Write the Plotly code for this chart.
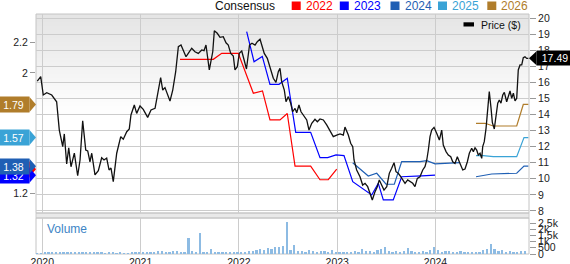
import plotly.graph_objects as go
import numpy as np

FONT = "Liberation Sans, Arial, sans-serif"
GRID = "#cccccc"

# ---------------- data (x in decimal years) ----------------
price_t = [2019.949, 2019.984, 2020.010, 2020.045, 2020.096, 2020.146, 2020.173, 2020.208, 2020.224, 2020.248,
           2020.269, 2020.292, 2020.326, 2020.360, 2020.384, 2020.411, 2020.442, 2020.462, 2020.485, 2020.503,
           2020.536, 2020.570, 2020.604, 2020.628, 2020.655, 2020.679, 2020.699, 2020.722, 2020.757, 2020.798,
           2020.824, 2020.859, 2020.885, 2020.902, 2020.936, 2020.960, 2020.994, 2021.027, 2021.072, 2021.106,
           2021.147, 2021.170, 2021.204, 2021.225, 2021.248, 2021.299, 2021.327, 2021.357, 2021.384, 2021.411,
           2021.434, 2021.462, 2021.485, 2021.520, 2021.553, 2021.587, 2021.622, 2021.645, 2021.665, 2021.699,
           2021.734, 2021.750, 2021.780, 2021.808, 2021.841, 2021.869, 2021.892, 2021.917, 2021.943, 2021.960,
           2021.984, 2022.004, 2022.029, 2022.052, 2022.077, 2022.108, 2022.133, 2022.164, 2022.187, 2022.215,
           2022.232, 2022.258, 2022.289, 2022.316, 2022.350, 2022.377, 2022.401, 2022.418, 2022.435, 2022.462,
           2022.479, 2022.503, 2022.527, 2022.547, 2022.571, 2022.588, 2022.611, 2022.632, 2022.662, 2022.690,
           2022.713, 2022.741, 2022.774, 2022.798, 2022.825, 2022.859, 2022.893, 2022.920, 2022.944, 2022.960,
           2022.995, 2023.029, 2023.062, 2023.079, 2023.113, 2023.137, 2023.158, 2023.171, 2023.198, 2023.232,
           2023.259, 2023.283, 2023.310, 2023.334, 2023.357, 2023.385, 2023.408, 2023.428, 2023.452, 2023.476,
           2023.504, 2023.530, 2023.554, 2023.578, 2023.598, 2023.621, 2023.646, 2023.666, 2023.690, 2023.717,
           2023.741, 2023.768, 2023.791, 2023.815, 2023.842, 2023.870, 2023.893, 2023.911, 2023.927, 2023.944,
           2023.961, 2023.985, 2024.012, 2024.039, 2024.063, 2024.079, 2024.107, 2024.130, 2024.155, 2024.175,
           2024.198, 2024.222, 2024.242, 2024.277, 2024.300, 2024.324, 2024.344, 2024.368, 2024.385, 2024.402,
           2024.419, 2024.435, 2024.453, 2024.470, 2024.480, 2024.496, 2024.514, 2024.531, 2024.547, 2024.565,
           2024.578, 2024.598, 2024.616, 2024.633, 2024.649, 2024.666, 2024.684, 2024.700, 2024.724, 2024.741,
           2024.758, 2024.775, 2024.792, 2024.809, 2024.826, 2024.842, 2024.860, 2024.877, 2024.893, 2024.910,
           2024.928, 2024.944]
price = [16.08, 16.35, 15.21, 15.35, 15.21, 14.79, 13.03, 12.00, 12.79, 10.92,
         11.93, 10.75, 11.60, 10.19, 11.17, 13.61, 11.79, 11.73, 11.06, 11.59,
         10.24, 10.50, 11.31, 11.17, 11.29, 10.55, 10.67, 9.82, 11.59, 12.62,
         12.46, 12.93, 13.10, 13.97, 14.59, 14.07, 14.53, 14.32, 13.82, 14.28,
         14.38, 15.11, 16.29, 15.52, 15.67, 14.84, 15.52, 16.66, 18.22, 18.32,
         18.01, 17.59, 17.80, 18.12, 17.90, 17.80, 18.01, 17.97, 18.32, 16.77,
         17.90, 19.21, 19.05, 18.80, 18.84, 18.46, 18.32, 17.80, 17.64, 16.77,
         16.97, 17.80, 17.95, 17.39, 16.83, 18.32, 18.43, 18.32, 18.53, 18.68,
         18.38, 17.80, 17.49, 16.97, 16.25, 16.00, 16.66, 16.87, 16.04, 15.52,
         14.79, 15.11, 14.70, 14.17, 14.38, 14.11, 14.59, 14.17, 13.86, 13.66,
         13.03, 13.45, 13.70, 13.55, 13.72, 13.66, 13.35, 13.03, 12.72, 12.62,
         12.72, 12.79, 12.72, 13.22, 12.72, 12.21, 12.00, 11.17, 10.55, 10.13,
         9.61, 9.72, 9.51, 9.14, 8.68, 9.20, 9.51, 9.93, 9.61, 9.30,
         9.51, 10.34, 10.65, 11.00, 10.44, 10.34, 10.13, 9.93, 9.72, 9.93,
         9.82, 9.72, 9.51, 10.03, 10.13, 10.55, 10.75, 11.17, 11.79, 12.62,
         13.03, 13.20, 12.83, 12.41, 13.03, 12.10, 11.69, 11.48, 11.37, 11.06,
         10.96, 11.37, 11.06, 10.55, 10.61, 11.06, 11.59, 11.90, 11.69, 11.93,
         11.79, 11.48, 11.59, 11.27, 12.00, 12.31, 13.14, 14.59, 15.42, 14.38,
         13.51, 13.10, 14.07, 14.70, 14.90, 14.70, 15.21, 15.38, 14.79, 15.11,
         15.46, 15.01, 15.32, 14.84, 15.01, 16.77, 17.08, 17.08, 17.53, 17.59,
         17.49, 17.49]

eps_years = ["2022", "2023", "2024", "2025", "2026"]
eps_colors = ["#ff0000", "#0000ff", "#1f5fb4", "#3aa3d6", "#b07d2b"]

eps_2022_t = [2021.401, 2021.740, 2021.825, 2021.994, 2022.147, 2022.240, 2022.316, 2022.418, 2022.492,
              2022.571, 2022.730, 2022.825, 2022.909, 2022.995]
eps_2022 = [2.09, 2.09, 2.13, 2.13, 1.865, 1.88, 1.687, 1.687, 1.73, 1.38, 1.38, 1.29, 1.29, 1.36]

eps_2023_t = [2022.079, 2022.154, 2022.238, 2022.316, 2022.408, 2022.492, 2022.578, 2022.730, 2022.825,
              2022.903, 2022.988, 2023.069, 2023.158, 2023.351, 2023.418, 2023.469, 2023.570, 2023.656,
              2023.860, 2023.995]
eps_2023 = [2.274, 2.074, 2.109, 1.924, 1.924, 1.964, 1.605, 1.605, 1.437, 1.437, 1.455, 1.450, 1.277,
            1.189, 1.266, 1.156, 1.156, 1.310, 1.315, 1.32]

eps_2024_t = [2023.158, 2023.316, 2023.402, 2023.497, 2023.581, 2023.656, 2023.842, 2023.911, 2023.995,
              2024.249, None, 2024.412, 2024.572, 2024.826, 2024.900, 2024.944]
eps_2024 = [1.403, 1.315, 1.333, 1.260, 1.260, 1.410, 1.410, 1.417, 1.395, 1.403, None, 1.310, 1.328,
            1.333, 1.38, 1.38]

eps_2025_t = [2024.412, 2024.486, 2024.588, 2024.826, 2024.900, 2024.944]
eps_2025 = [1.450, 1.450, 1.443, 1.443, 1.57, 1.57]

eps_2026_t = [2024.412, 2024.503, 2024.588, 2024.826, 2024.893, 2024.944]
eps_2026 = [1.665, 1.665, 1.647, 1.647, 1.79, 1.79]

eps_t = [eps_2022_t, eps_2023_t, eps_2024_t, eps_2025_t, eps_2026_t]
eps_v = [eps_2022, eps_2023, eps_2024, eps_2025, eps_2026]

# volume (thousands), bi-weekly bars
vol = [70, 80, 90, 100, 110, 120, 160, 150, 140, 110, 100, 90, 110, 120, 130, 100, 90, 110, 80, 90,
       100, 80, 90, 70, 80, 90, 100, 120,
       100, 90, 110, 130, 210, 230, 140, 160, 240, 220, 180, 200, 1320, 260, 150, 1670, 180, 140, 370, 150,
       200, 120, 110, 130, 100, 120,
       140, 180, 270, 230, 300, 400, 350, 480, 420, 540, 600, 650, 2620, 330, 730, 280, 250, 200, 320, 220,
       180, 240, 280, 200, 350, 180,
       150, 130, 170, 200, 220, 180, 400, 220, 250, 200, 300, 420, 590, 250, 200, 280, 180, 220, 460, 260,
       200, 180, 230, 200, 330, 540,
       350, 200, 260, 230, 200, 180, 240, 160, 190, 170, 200, 180, 320, 400, 810, 380, 270, 300, 200, 230,
       160, 200, 240, 220]
vol_start = 2019.95
vol_t = [round(vol_start + k / 26, 4) for k in range(len(vol))]

year_ticks = [2020, 2021, 2022, 2023, 2024]
year_labels = ["2020", "2021", "2022", "2023", "2024"]

assert len(price_t) == len(price), (len(price_t), len(price))
for a, b in zip(eps_t, eps_v):
    assert len(a) == len(b)

# ---------------- geometry (pixels) ----------------
W, H = 570, 264
ML, MR, MT, MB = 36, 41, 14, 10
PH = H - MT - MB  # 240


def py2paper(py):
    return (H - MB - py) / PH


MAIN_BOTTOM = py2paper(213)
VOL_TOP = py2paper(218)

fig = go.Figure()

for yr, col, tt, vv in zip(eps_years, eps_colors, eps_t, eps_v):
    fig.add_trace(go.Scatter(x=tt, y=vv, mode="lines", line=dict(color=col, width=1.2),
                             xaxis="x", yaxis="y", connectgaps=False, hoverinfo="skip"))

fig.add_trace(go.Scatter(x=price_t, y=price, mode="lines", line=dict(color="#111111", width=1.3),
                         xaxis="x", yaxis="y2", hoverinfo="skip"))

fig.add_trace(go.Bar(x=vol_t, y=vol, width=0.018, marker=dict(color="#8dbbe3", line=dict(width=0)),
                     xaxis="x", yaxis="y3", hoverinfo="skip"))

shapes = []
# gradient background at top of main panel
n = 26
for k in range(n):
    p0 = 14 + k * 4
    p1 = p0 + 4
    c = int(round(229 + (255 - 229) * k / (n - 1)))
    shapes.append(dict(type="rect", xref="paper", yref="paper", x0=0, x1=1,
                       y0=py2paper(p1), y1=py2paper(p0), fillcolor=f"rgb({c},{c},{c})",
                       line=dict(width=0), layer="below"))
# separator band
shapes.append(dict(type="rect", xref="paper", yref="paper", x0=0, x1=1, y0=VOL_TOP, y1=MAIN_BOTTOM,
                   fillcolor="#e9e9e9", line=dict(color="#cccccc", width=1), layer="below"))
# frames
shapes.append(dict(type="rect", xref="paper", yref="paper", x0=0, x1=1, y0=MAIN_BOTTOM, y1=1,
                   fillcolor="rgba(0,0,0,0)", line=dict(color="#c4c4c4", width=1), layer="below"))
shapes.append(dict(type="rect", xref="paper", yref="paper", x0=0, x1=1, y0=0, y1=VOL_TOP,
                   fillcolor="rgba(0,0,0,0)", line=dict(color="#c4c4c4", width=1), layer="below"))

annotations = []

# left consensus labels (last value of each series)
for yr, col, vv in zip(eps_years, eps_colors, eps_v):
    last = [v for v in vv if v is not None][-1]
    shapes.append(dict(type="path", xref="paper", yref="y", xsizemode="pixel", ysizemode="pixel",
                       xanchor=0, yanchor=last, path="M -6.5,7.5 L 0,0 L -6.5,-7.5 Z",
                       fillcolor=col, line=dict(width=0), layer="above"))
    annotations.append(dict(xref="paper", yref="y", x=0, y=last, xanchor="right", yanchor="middle",
                            xshift=-6, text=f"{last:.2f}", showarrow=False, bgcolor=col,
                            font=dict(color="white", size=10.5, family=FONT),
                            width=31, height=15, borderpad=0, align="center"))

# right price label
last_price = price[-1]
shapes.append(dict(type="path", xref="paper", yref="y2", xsizemode="pixel", ysizemode="pixel",
                   xanchor=1, yanchor=last_price, path="M 0,0 L 7.5,7 L 7.5,-7 Z",
                   fillcolor="black", line=dict(width=0), layer="above"))
annotations.append(dict(xref="paper", yref="y2", x=1, y=last_price, xanchor="left", yanchor="middle",
                        xshift=7, text=f"{last_price:.2f}", showarrow=False, bgcolor="black",
                        font=dict(color="white", size=10.5, family=FONT),
                        width=36, height=14, borderpad=0, align="center"))

# top legend
annotations.append(dict(xref="paper", yref="paper", x=0, y=1, xanchor="left", yanchor="middle",
                        xshift=214 - ML, yshift=MT - 5.5, text="Consensus", showarrow=False,
                        font=dict(color="#111", size=12, family=FONT), borderpad=0))
sq_px = [291.7, 339.8, 390.5, 438.0, 487.3]
for yr, col, sx in zip(eps_years, eps_colors, sq_px):
    shapes.append(dict(type="rect", xref="paper", yref="paper", xsizemode="pixel", ysizemode="pixel",
                       xanchor=0, yanchor=1, x0=sx - ML, x1=sx + 9 - ML, y0=MT - 10, y1=MT - 1.5,
                       fillcolor=col, line=dict(width=0)))
    annotations.append(dict(xref="paper", yref="paper", x=0, y=1, xanchor="left", yanchor="middle",
                            xshift=sx + 13 - ML, yshift=MT - 5.5, text=yr, showarrow=False,
                            font=dict(color=col, size=12, family=FONT), borderpad=0))

# price legend inside
shapes.append(dict(type="rect", xref="paper", yref="paper", xsizemode="pixel", ysizemode="pixel",
                   xanchor=0, yanchor=1, x0=463.5 - ML, x1=474 - ML, y0=MT - 22.3, y1=MT - 26.5,
                   fillcolor="black", line=dict(width=0)))
annotations.append(dict(xref="paper", yref="paper", x=0, y=1, xanchor="left", yanchor="middle",
                        xshift=479.5 - ML, yshift=MT - 25, text="Price ($)", showarrow=False,
                        font=dict(color="#111", size=10.5, family=FONT), borderpad=0))

# volume label
annotations.append(dict(xref="paper", yref="paper", x=0, y=VOL_TOP, xanchor="left", yanchor="middle",
                        xshift=46 - ML, yshift=218 - 229, text="Volume", showarrow=False,
                        font=dict(color="#3d85c6", size=12, family=FONT), borderpad=0))

fig.update_layout(
    width=W, height=H, margin=dict(l=ML, r=MR, t=MT, b=MB, pad=0, autoexpand=False),
    paper_bgcolor="white", plot_bgcolor="rgba(0,0,0,0)", showlegend=False,
    font=dict(family=FONT, size=10.5, color="#222"),
    bargap=0,
    xaxis=dict(domain=[0, 1], range=[2019.936, 2024.951], anchor="y3", tickmode="array",
               tickvals=year_ticks, ticktext=year_labels, showgrid=True, gridcolor=GRID, gridwidth=1,
               zeroline=False, showline=False, ticks="", tickfont=dict(size=10.5), automargin=False),
    yaxis=dict(domain=[MAIN_BOTTOM, 1], range=[1.069, 2.391], side="left", tickmode="array",
               tickvals=[1.2, 2, 2.2], ticktext=["1.2", "2", "2.2"], showgrid=False, zeroline=False,
               showline=False, ticks="outside", ticklen=5, tickcolor="#999", tickfont=dict(size=10.5),
               automargin=False),
    yaxis2=dict(overlaying="y", side="right", anchor="x", range=[7.873, 20.249], tick0=0, dtick=1,
                showgrid=True, gridcolor=GRID, gridwidth=1, zeroline=False, showline=False,
                ticks="outside", ticklen=6, tickcolor="#999", tickfont=dict(size=10.5), automargin=False),
    yaxis3=dict(domain=[0, VOL_TOP], range=[0, 2903], side="right", anchor="x", tickmode="array",
                tickvals=[0, 500, 1000, 1500, 2000, 2500], ticktext=["0", "500", "1k", "1.5k", "2k", "2.5k"],
                showgrid=False, zeroline=False, showline=False, ticks="outside", ticklen=6,
                tickcolor="#999", tickfont=dict(size=10.5), automargin=False),
    shapes=shapes, annotations=annotations,
)

fig.write_html("out.html")
